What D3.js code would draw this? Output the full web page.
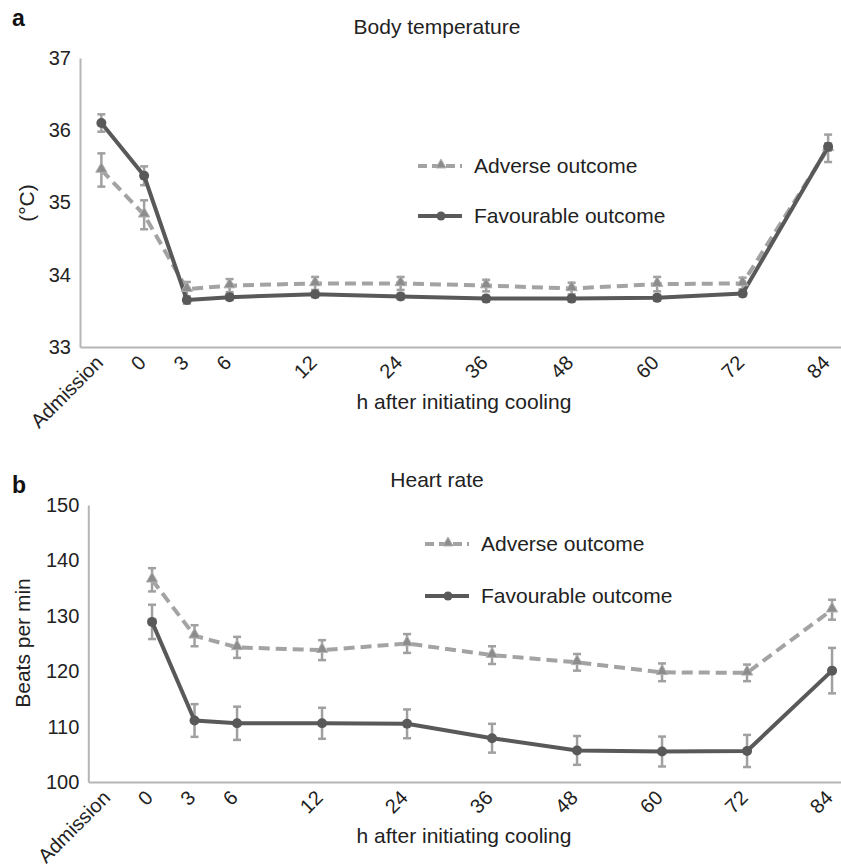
<!DOCTYPE html>
<html>
<head>
<meta charset="utf-8">
<script src="https://cdn.jsdelivr.net/npm/d3@7/dist/d3.min.js"></script>
<style>
  html, body { margin: 0; padding: 0; background: #fff; }
  svg text { font-family: "Liberation Sans", Arial, sans-serif; fill: #222; }
</style>
</head>
<body>
<div id="chart"></div>
<script>
// ---------- data ----------
const categories = ["Admission", "0", "3", "6", "12", "24", "36", "48", "60", "72", "84"];
const seriesNames = ["Adverse outcome", "Favourable outcome"];

// Body temperature (°C)
const tempAdverse      = [35.45, 34.83, 33.80, 33.85, 33.88, 33.88, 33.85, 33.81, 33.87, 33.88, 35.75];
const tempAdverseErr   = [0.23, 0.20, 0.10, 0.09, 0.09, 0.09, 0.08, 0.08, 0.10, 0.08, 0.19];
const tempFavourable   = [36.10, 35.37, 33.65, 33.69, 33.73, 33.70, 33.67, 33.67, 33.68, 33.74, 35.77];
const tempFavourableErr= [0.12, 0.13, 0.05, 0.04, 0.04, 0.04, 0.04, 0.04, 0.04, 0.04, 0.05];
const tempTicks = [33, 34, 35, 36, 37];

// Heart rate (beats per min) — no value at admission
const hrAdverse        = [null, 136.5, 126.4, 124.3, 123.8, 125.0, 122.9, 121.6, 119.8, 119.7, 131.1];
const hrAdverseErr     = [null, 2.1, 1.9, 1.9, 1.8, 1.7, 1.6, 1.5, 1.6, 1.5, 1.8];
const hrFavourable     = [null, 128.9, 111.1, 110.6, 110.6, 110.5, 107.9, 105.7, 105.5, 105.6, 120.1];
const hrFavourableErr  = [null, 3.1, 2.95, 3.0, 2.8, 2.6, 2.6, 2.6, 2.7, 2.9, 4.1];
const hrTicks = [100, 110, 120, 130, 140, 150];

// ---------- styles ----------
const C_FAV = "#595959";
const C_ADV = "#a3a3a3";
const C_ADV_MARK = "#8c8c8c";
const C_ERR = "#a0a0a0";
const C_AXIS = "#b5b5b5";

const W = 841, H = 866;
const svg = d3.select("#chart").append("svg").attr("width", W).attr("height", H);

// category axis with spacer slots between the later (12 h) time points
function slotDomain(cats) {
  const out = [];
  cats.forEach((c, i) => {
    if (i > 0 && +c > 6) out.push("__gap" + i);
    out.push(c);
  });
  return out;
}

function panel(opt) {
  const g = svg.append("g");
  const x = d3.scaleBand().domain(slotDomain(categories)).range(opt.xRange).padding(0);
  const xc = c => x(c) + x.bandwidth() / 2;
  const y = d3.scaleLinear().domain(opt.yDomain).range(opt.yRange);

  // panel letter + title
  g.append("text").attr("x", 12).attr("y", opt.letterY).text(opt.letter)
    .style("font-weight", "bold").style("font-size", "23px").style("fill", "#111");
  g.append("text").attr("x", opt.titleX).attr("y", opt.titleY).attr("text-anchor", "middle")
    .style("font-size", "21px").text(opt.title);

  // axes
  const yAxis = d3.axisLeft(y).tickValues(opt.yTicks).tickSize(0).tickPadding(9).tickFormat(d3.format("d"));
  const ya = g.append("g").attr("transform", `translate(${opt.xRange[0]},0)`).call(yAxis);
  ya.select(".domain").attr("stroke", C_AXIS).attr("stroke-width", 2);
  ya.selectAll("text").style("font-size", "20px").style("fill", "#222");

  const xAxis = d3.axisBottom(x).tickValues(categories).tickSize(0).tickFormat(d => d);
  const xa = g.append("g").attr("transform", `translate(0,${opt.yRange[0]})`).call(xAxis);
  xa.select(".domain").attr("stroke", C_AXIS).attr("stroke-width", 2);
  xa.selectAll(".tick text")
    .style("font-size", "20px").style("fill", "#222")
    .attr("text-anchor", "end").attr("dominant-baseline", "central")
    .attr("dy", null).attr("y", 0)
    .attr("transform", `translate(${opt.tickDx},${opt.tickDy}) rotate(-45)`);

  // axis titles
  g.append("text").attr("x", opt.xTitleX).attr("y", opt.xTitleY).attr("text-anchor", "middle")
    .style("font-size", "21px").text("h after initiating cooling");
  g.append("text").attr("transform", `translate(${opt.yTitleX},${opt.yTitleY}) rotate(-90)`)
    .attr("text-anchor", "middle").style("font-size", "21px").text(opt.yTitle);

  const series = [
    { name: seriesNames[0], vals: opt.adv, err: opt.advErr, color: C_ADV, dash: "11,6", mark: "tri" },
    { name: seriesNames[1], vals: opt.fav, err: opt.favErr, color: C_FAV, dash: null, mark: "circ" }
  ];

  // error bars
  series.forEach(s => {
    const pts = categories.map((c, i) => ({ c, v: s.vals[i], e: s.err[i] })).filter(p => p.v != null);
    const eb = g.append("g").attr("stroke", C_ERR).attr("stroke-width", 2.5).attr("fill", "none");
    pts.forEach(p => {
      const cx = xc(p.c);
      eb.append("line").attr("x1", cx).attr("x2", cx).attr("y1", y(p.v - p.e)).attr("y2", y(p.v + p.e));
      eb.append("line").attr("x1", cx - 4).attr("x2", cx + 4).attr("y1", y(p.v - p.e)).attr("y2", y(p.v - p.e));
      eb.append("line").attr("x1", cx - 4).attr("x2", cx + 4).attr("y1", y(p.v + p.e)).attr("y2", y(p.v + p.e));
    });
  });

  // lines + markers
  series.forEach(s => {
    const pts = categories.map((c, i) => ({ c, v: s.vals[i] })).filter(p => p.v != null);
    const line = d3.line().x(p => xc(p.c)).y(p => y(p.v));
    g.append("path").datum(pts).attr("d", line).attr("fill", "none")
      .attr("stroke", s.color).attr("stroke-width", 4)
      .attr("stroke-dasharray", s.dash).attr("stroke-linejoin", "round");
  });
  series.forEach(s => {
    const pts = categories.map((c, i) => ({ c, v: s.vals[i] })).filter(p => p.v != null);
    if (s.mark === "tri") {
      g.selectAll(null).data(pts).join("path")
        .attr("d", d3.symbol(d3.symbolTriangle, 55)())
        .attr("transform", p => `translate(${xc(p.c)},${y(p.v) - 1})`)
        .attr("fill", C_ADV_MARK).attr("stroke", "#b0b0b0").attr("stroke-width", 1);
    } else {
      g.selectAll(null).data(pts).join("circle")
        .attr("cx", p => xc(p.c)).attr("cy", p => y(p.v)).attr("r", 5)
        .attr("fill", C_FAV);
    }
  });

  // legend
  const lg = g.append("g");
  series.forEach((s, i) => {
    const ly = opt.legendY[i];
    lg.append("line").attr("x1", opt.legendX).attr("x2", opt.legendX + 44).attr("y1", ly).attr("y2", ly)
      .attr("stroke", s.color).attr("stroke-width", 4).attr("stroke-dasharray", s.dash ? "9,5" : null);
    if (s.mark === "tri") {
      lg.append("path").attr("d", d3.symbol(d3.symbolTriangle, 45)())
        .attr("transform", `translate(${opt.legendX + 23},${ly - 1})`)
        .attr("fill", C_ADV_MARK).attr("stroke", "#b0b0b0").attr("stroke-width", 1);
    } else {
      lg.append("circle").attr("cx", opt.legendX + 23).attr("cy", ly).attr("r", 4.5).attr("fill", C_FAV);
    }
    lg.append("text").attr("x", opt.legendX + 56).attr("y", ly + 7).style("font-size", "21px").text(s.name);
  });
}

panel({
  letter: "a", letterY: 26, title: "Body temperature", titleX: 437, titleY: 34,
  xRange: [80, 849.5], yDomain: [33, 37], yRange: [347, 58], yTicks: tempTicks,
  adv: tempAdverse, advErr: tempAdverseErr, fav: tempFavourable, favErr: tempFavourableErr,
  tickDx: -2, tickDy: 12,
  xTitleX: 464, xTitleY: 409, yTitle: "(°C)", yTitleX: 34, yTitleY: 203,
  legendX: 418, legendY: [166, 216]
});

panel({
  letter: "b", letterY: 493, title: "Heart rate", titleX: 437, titleY: 487,
  xRange: [88.3, 853.3], yDomain: [100, 150], yRange: [782, 505], yTicks: hrTicks,
  adv: hrAdverse, advErr: hrAdverseErr, fav: hrFavourable, favErr: hrFavourableErr,
  tickDx: -3, tickDy: 12,
  xTitleX: 464, xTitleY: 843, yTitle: "Beats per min", yTitleX: 30, yTitleY: 643,
  legendX: 425, legendY: [544, 596]
});
</script>
</body>
</html>
